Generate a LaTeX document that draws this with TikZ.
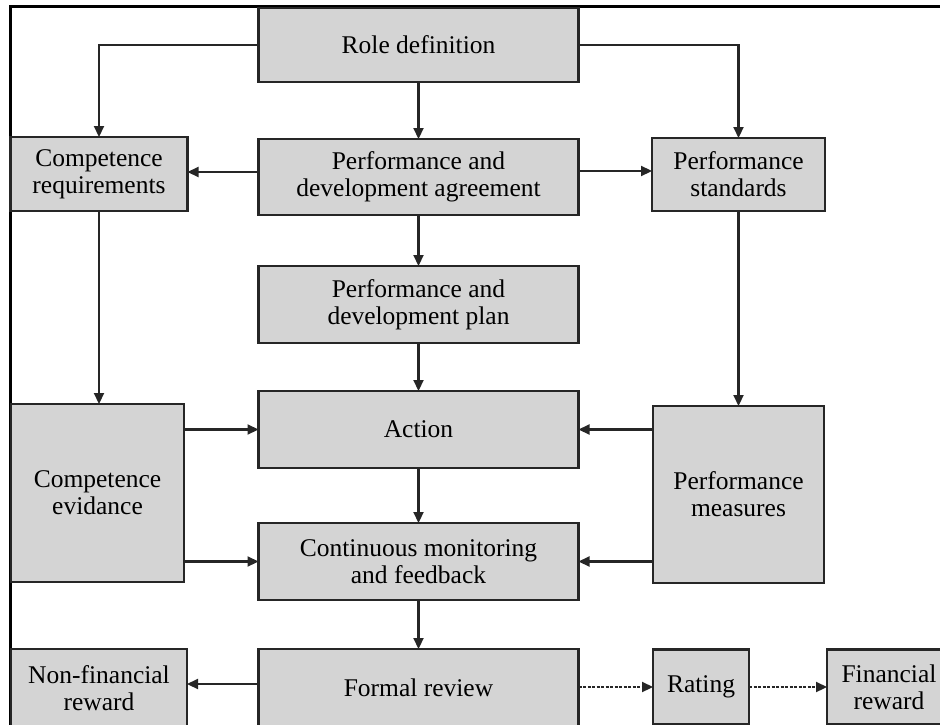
\documentclass[tikz,border=0pt]{standalone}
\usepackage{fontspec}
\setmainfont{Liberation Serif}
\usepackage{tikz}
\usetikzlibrary{positioning,calc,arrows.meta}
\definecolor{boxfill}{HTML}{D4D4D4}
\definecolor{boxline}{HTML}{262626}
\newcommand{\StageFont}{\fontsize{25.5pt}{27pt}\selectfont}
\tikzset{
  stagebox/.style={
    draw=boxline, fill=boxfill, line width=2.2pt,
    minimum width=#1, inner sep=0pt, outer sep=0pt,
    align=center, font=\StageFont
  },
  stagebox/.default=320pt,
  flow arrow/.style={
    -{Triangle[length=11pt,width=10pt]}, line width=2.2pt, draw=boxline
  },
  dotted flow/.style={
    flow arrow, dash pattern=on 3pt off 1.5pt
  },
  frame line/.style={line width=3pt, draw=black}
}

\begin{document}
\begin{tikzpicture}[x=1pt, y=-1pt]
    \useasboundingbox (0,0) rectangle (940,725);
    \begin{scope}
        \clip (0,0) rectangle (940,725);
        \draw[frame line] (10,725) -- (10,7) -- (940,7);
        % middle column
        \node[stagebox, minimum height=74pt] (role) at (418.5,45) {Role definition};
        \node[stagebox, minimum height=76pt] (agree) at (418.5,177) {Performance and\\development agreement};
        \node[stagebox, minimum height=77pt] (plan) at (418.5,304.5) {Performance and\\development plan};
        \node[stagebox, minimum height=77pt] (action) at (418.5,429.5) {Action};
        \node[stagebox, minimum height=77pt] (monitor) at (418.5,561.5) {Continuous monitoring\\and feedback};
        \node[stagebox, minimum height=78pt] (review) at (418.5,688) {Formal review};
        % left column
        \node[stagebox=177pt, minimum height=74pt] (compreq) at (99,174) {Competence\\requirements};
        \node[stagebox=173pt, minimum height=178pt] (evidence) at (97.5,493) {Competence\\evidance};
        \node[stagebox=176pt, minimum height=78pt] (nonfin) at (99,688) {Non-financial\\reward};
        % right column
        \node[stagebox=173pt, minimum height=73pt] (standards) at (738.5,174.5) {Performance\\standards};
        \node[stagebox=171pt, minimum height=177pt] (measures) at (738.5,494.5) {Performance\\measures};
        \node[stagebox=96pt, minimum height=75pt] (rating) at (701,687) {Rating};
        \node[stagebox=124pt, minimum height=75pt] (finrew) at (889,687) {Financial\\reward};

        % connectors
        \draw[flow arrow] (role.west) -| (compreq.north);
        \draw[flow arrow] (role.east) -| (standards.north);
        \draw[flow arrow] (role) -- (agree);
        \draw[flow arrow] ($(agree.west)+(0,-5)$) -- (compreq.east |- {$(agree.west)+(0,-5)$});
        \draw[flow arrow] ($(agree.east)+(0,-6)$) -- (standards.west |- {$(agree.east)+(0,-6)$});
        \draw[flow arrow] (agree) -- (plan);
        \draw[flow arrow] (plan) -- (action);
        \draw[flow arrow] (action) -- (monitor);
        \draw[flow arrow] (monitor) -- (review);
        \draw[flow arrow] (compreq.south) -- (compreq.south |- evidence.north);
        \draw[flow arrow] (standards.south) -- (standards.south |- measures.north);
        \draw[flow arrow] (evidence.east |- action.west) -- (action.west);
        \draw[flow arrow] (evidence.east |- monitor.west) -- (monitor.west);
        \draw[flow arrow] (measures.west |- action.east) -- (action.east);
        \draw[flow arrow] (measures.west |- monitor.east) -- (monitor.east);
        \draw[flow arrow] ($(review.west)+(0,-4)$) -- (nonfin.east |- {$(review.west)+(0,-4)$});
        \draw[dotted flow] (review.east |- rating.west) -- (rating.west);
        \draw[dotted flow] (rating.east) -- (finrew.west);
    \end{scope}
\end{tikzpicture}
\end{document}
